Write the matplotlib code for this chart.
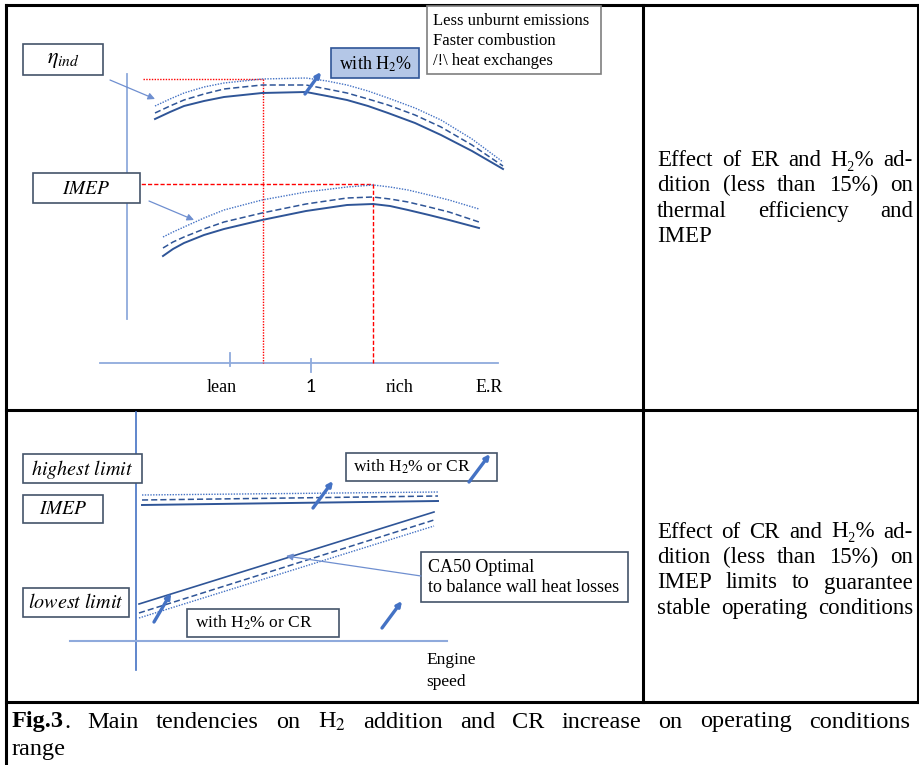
import matplotlib.pyplot as plt
from matplotlib.patches import Rectangle

plt.rcParams['mathtext.fontset'] = 'stix'
plt.rcParams['font.family'] = ['Liberation Serif', 'DejaVu Serif']

# ---- data (pixel units of the 920x765 page) ----
# top panel: indicated efficiency curves (solid = base, dashed / dotted = with H2)
eta_x = [155, 170, 184, 204, 224, 262, 306, 327, 347, 368, 388, 415, 441, 472, 503]
eta_solid = [119, 112, 106, 101, 97, 93, 92, 96, 100, 106, 113, 123, 135, 151, 169]
eta_dash = [113, 106, 100, 94, 89, 85, 85, 89, 93, 99, 105, 115, 127, 145, 166]
eta_dot = [106, 99, 93, 87, 83, 79, 78, 81, 85, 91, 98, 108, 120, 139, 162]

# top panel: IMEP curves
imep_x = [163, 173, 184, 204, 224, 262, 306, 347, 373, 390, 408, 429, 449, 479]
imep_solid = [256, 249, 243, 235, 229, 220, 211, 205, 204, 206, 210, 215, 220, 228]
imep_dash = [248, 242, 237, 229, 222, 213, 204, 198, 197, 199, 202, 207, 212, 222]
imep_dot = [237, 232, 227, 218, 210, 200, 192, 187, 185, 187, 190, 195, 200, 209]

er_ticks = [230, 311]
er_labels = ['lean', '1', 'rich', 'E.R']
er_label_x = [222, 311, 400, 489]

# bottom panel: highest / lowest IMEP limit vs engine speed
high_x = [142, 438]
high_solid = [505, 501]
high_dash = [500, 496]
high_dot = [495, 492]

low_x = [139, 434]
low_solid = [604, 512]
low_dash = [613, 520]
low_dot = [618, 526]

para_top = ['Effect of ER and H\u2082% ad-', 'dition (less than 15%) on',
            'thermal efficiency and', 'IMEP']
para_bot = ['Effect of CR and H\u2082% ad-', 'dition (less than 15%) on',
            'IMEP limits to guarantee', 'stable operating conditions']

fig = plt.figure(figsize=(9.2, 7.65), dpi=100)
ax = fig.add_axes([0, 0, 1, 1])
ax.set_xlim(0, 920)
ax.set_ylim(765, 0)
ax.axis('off')

dark = '#2f5597'
mid = '#4472c4'
light = '#8faadc'
boxc = '#44546a'

# table frame
k = dict(color='black', lw=2.2, solid_capstyle='projecting')
ax.plot([6, 6], [5, 765], **k)
ax.plot([6, 918], [5, 5], **k)
ax.plot([918, 918], [5, 702], **k)
ax.plot([643, 643], [5, 702], **k)
ax.plot([6, 918], [410, 410], **k)
ax.plot([6, 918], [702, 702], **k)


def box(x, y, w, h, fc='white', ec=boxc):
    ax.add_patch(Rectangle((x, y), w, h, fc=fc, ec=ec, lw=1.2, zorder=3))


def slash(x0, y0, x1, y1):
    ax.annotate('', xy=(x1, y1), xytext=(x0, y0), zorder=5,
                arrowprops=dict(arrowstyle='-|>', color=mid, lw=2.4,
                                mutation_scale=7, shrinkA=0, shrinkB=0))


def thin_arrow(x0, y0, x1, y1):
    ax.annotate('', xy=(x1, y1), xytext=(x0, y0), zorder=4,
                arrowprops=dict(arrowstyle='-|>', color='#6f8fd0', lw=0.9,
                                mutation_scale=10, shrinkA=0, shrinkB=0))


# ---------------- top panel ----------------
ax.plot([127, 127], [74, 319], color=light, lw=1.3)
ax.plot([100, 498], [363, 363], color=light, lw=1.3)
for tx, dy in zip(er_ticks, [(353, 366), (359, 372)]):
    ax.plot([tx, tx], dy, color=light, lw=1.3)
for lx, lab in zip(er_label_x, er_labels):
    fam = ['Lato'] if lab == '1' else ['Liberation Serif']
    ax.text(lx, 387, lab, ha='center', va='center', fontsize=13, family=fam)

# red guide lines
ax.plot([143, 263], [79, 79], color='red', lw=1, ls=(0, (1, 1)))
ax.plot([263, 263], [79, 363], color='red', lw=1, ls=(0, (1, 1)))
ax.plot([135, 373], [184, 184], color='red', lw=1, ls=(0, (3, 1.5)))
ax.plot([373, 373], [184, 363], color='red', lw=1, ls=(0, (3, 1.5)))

ax.plot(eta_x, eta_solid, color=dark, lw=1.4)
ax.plot(eta_x, eta_dash, color=dark, lw=1.1, ls=(0, (4, 2)))
ax.plot(eta_x, eta_dot, color=mid, lw=1.0, ls=(0, (1, 1)))
ax.plot(imep_x, imep_solid, color=dark, lw=1.4)
ax.plot(imep_x, imep_dash, color=dark, lw=1.1, ls=(0, (4, 2)))
ax.plot(imep_x, imep_dot, color=mid, lw=1.0, ls=(0, (1, 1)))

box(23, 44, 80, 31)
ax.text(63, 60, r'$\eta_{ind}$', ha='center', va='center', fontsize=16)
thin_arrow(110, 80, 155, 99)

box(33, 173, 107, 30)
ax.text(86, 189, r'$IMEP$', ha='center', va='center', fontsize=14)
thin_arrow(149, 201, 194, 220)

box(331, 48, 88, 30, fc='#b4c7e7', ec=dark)
ax.text(339, 64, r'with H$_2$%', ha='left', va='center', fontsize=13, zorder=4)
slash(305, 94, 321, 72)

box(427, 6, 174, 68, ec='#7f7f7f')
for i, s in enumerate(['Less unburnt emissions', 'Faster combustion',
                       '/!\\ heat exchanges']):
    ax.text(433, 21 + 20 * i, s, ha='left', va='center', fontsize=12, zorder=4)

# ---------------- bottom panel ----------------
ax.plot([136, 136], [412, 670], color=mid, lw=1.2)
ax.plot([70, 447], [641, 641], color=light, lw=1.5)

ax.plot(high_x, high_solid, color=dark, lw=1.4)
ax.plot(high_x, high_dash, color=dark, lw=1.1, ls=(0, (4, 2)))
ax.plot(high_x, high_dot, color=mid, lw=1.0, ls=(0, (1, 1)))
ax.plot(low_x, low_solid, color=dark, lw=1.2)
ax.plot(low_x, low_dash, color=dark, lw=1.1, ls=(0, (4, 2)))
ax.plot(low_x, low_dot, color=mid, lw=1.0, ls=(0, (1, 1)))

box(23, 454, 119, 29)
ax.text(82, 469, r'$highest\ limit$', ha='center', va='center', fontsize=14.5)
box(23, 495, 80, 28)
ax.text(63, 509, r'$IMEP$', ha='center', va='center', fontsize=14)
box(23, 588, 106, 29)
ax.text(76, 603, r'$lowest\ limit$', ha='center', va='center', fontsize=14.5)

box(346, 453, 151, 28)
ax.text(353, 467, r'with H$_2$% or CR', ha='left', va='center', fontsize=12.5, zorder=4)
slash(469, 482, 490, 454)
slash(313, 508, 333, 481)
slash(154, 622, 171, 593)
slash(382, 628, 402, 601)

box(187, 609, 152, 28)
ax.text(195, 623, r'with H$_2$% or CR', ha='left', va='center', fontsize=12.5, zorder=4)

box(421, 552, 207, 50)
ax.text(428, 567, 'CA50 Optimal', ha='left', va='center', fontsize=13, zorder=4)
ax.text(428, 588, 'to balance wall heat losses', ha='left', va='center', fontsize=13, zorder=4)
thin_arrow(421, 576, 286, 556)

ax.text(426, 660, 'Engine', ha='left', va='center', fontsize=12.5)
ax.text(426, 682, 'speed', ha='left', va='center', fontsize=12.5)

# ---------------- justified text ----------------
fig.canvas.draw()
rend = fig.canvas.get_renderer()


def justify(words, x0, x1, y, size):
    # each word is a list of (text, weight) pieces drawn side by side
    groups = []
    for w in words:
        pieces = w if isinstance(w, list) else [(w, 'normal')]
        ts = [ax.text(x0, y, s, ha='left', va='center', fontsize=size,
                      fontweight=wt) for s, wt in pieces]
        groups.append((ts, [t.get_window_extent(rend).width for t in ts]))
    total = sum(sum(ws) for _, ws in groups)
    gap = (x1 - x0 - total) / max(len(groups) - 1, 1)
    x = x0
    for ts, ws in groups:
        for t, wd in zip(ts, ws):
            t.set_x(x)
            x += wd
        x += gap


def paragraph(lines, x0, x1, y0, lh, size, last_full=False):
    for i, line in enumerate(lines):
        y = y0 + i * lh
        if i == len(lines) - 1 and not last_full:
            ax.text(x0, y, line, ha='left', va='center', fontsize=size)
        else:
            justify(line.split(' '), x0, x1, y, size)


paragraph(para_top, 657, 913, 160, 25.5, 16.5)
paragraph(para_bot, 657, 913, 532, 25.5, 16.5, last_full=True)

cap_words = [[('Fig.3', 'bold'), ('.', 'normal')], 'Main', 'tendencies', 'on',
             r'H$_2$', 'addition', 'and', 'CR', 'increase', 'on', 'operating',
             'conditions']
justify(cap_words, 12, 910, 722, 17.5)
ax.text(12, 750, 'range', ha='left', va='center', fontsize=17.5)

fig.savefig('out.png', dpi=100)
